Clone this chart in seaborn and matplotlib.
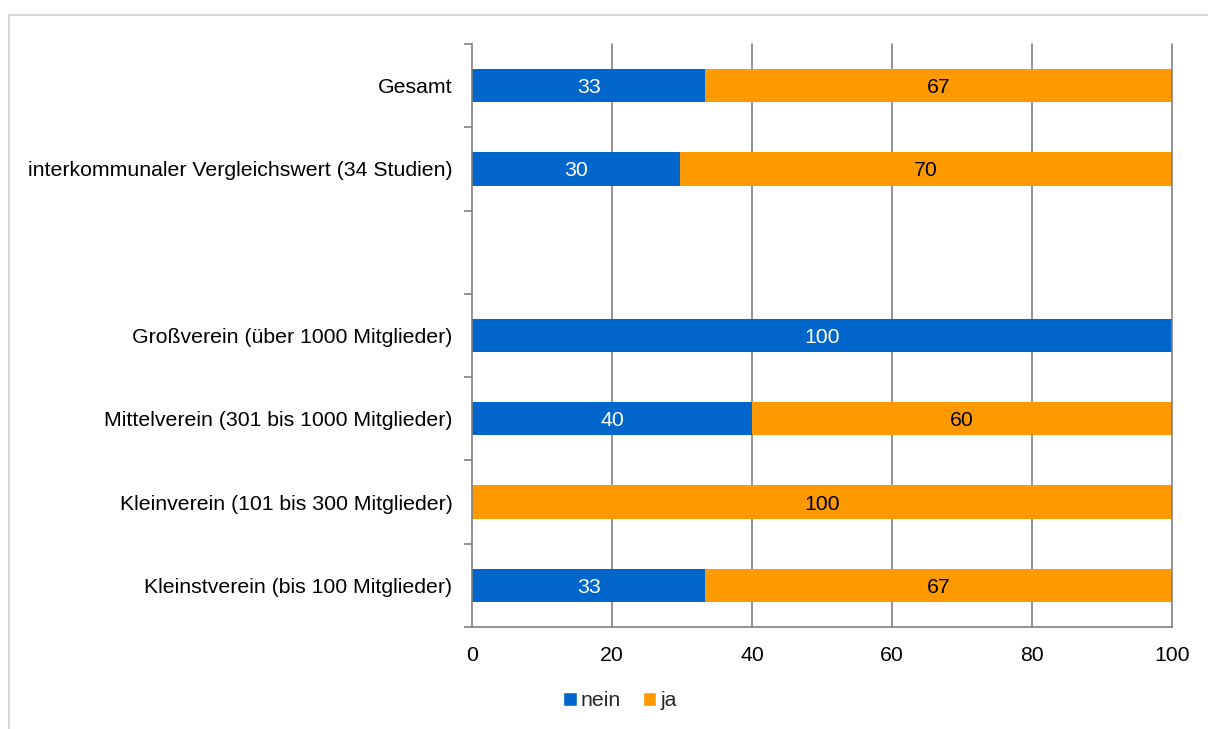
import matplotlib
matplotlib.use("Agg")
import matplotlib.pyplot as plt
import seaborn as sns
import pandas as pd
import numpy as np
from matplotlib.patches import Rectangle, Patch

categories = [
    "Gesamt",
    "interkommunaler Vergleichswert (34 Studien)",
    " ",
    "Großverein (über 1000 Mitglieder)",
    "Mittelverein (301 bis 1000 Mitglieder)",
    "Kleinverein (101 bis 300 Mitglieder)",
    "Kleinstverein (bis 100 Mitglieder)",
]
nein = [33.3, 29.7, np.nan, 100, 40, 0, 33.3]
ja = [66.7, 70.3, np.nan, 0, 60, 100, 66.7]
x_ticks = [0, 20, 40, 60, 80, 100]

BLUE = "#0066CC"
ORANGE = "#FF9900"
GRID = "#808080"
FS = 15.3

sns.set_theme(style="white")
plt.rcParams["font.family"] = ["Liberation Sans", "DejaVu Sans"]

df = pd.DataFrame({"cat": categories, "nein": nein, "ja": ja})
df["total"] = df["nein"] + df["ja"]

fig = plt.figure(figsize=(12.08, 7.29), dpi=100)
ax = fig.add_axes([472/1208, 1-627/729, 700/1208, (627-44)/729])

sns.barplot(data=df, y="cat", x="total", color=ORANGE, orient="h", width=0.4,
            ax=ax, saturation=1, zorder=3, order=categories, linewidth=0)
sns.barplot(data=df, y="cat", x="nein", color=BLUE, orient="h", width=0.4,
            ax=ax, saturation=1, zorder=4, order=categories, linewidth=0)

ax.set_xlim(0, 100)
ax.set_ylim(6.5, -0.5)
ax.set_xticks(x_ticks)
ax.set_xticklabels([str(t) for t in x_ticks], fontsize=FS, color="black")
ax.set_xlabel("")
ax.set_ylabel("")
ax.tick_params(axis="x", length=0, pad=14)
ax.tick_params(axis="y", which="major", left=False, length=0, pad=14, labelsize=FS, labelcolor="black")
ax.set_yticks(np.arange(-0.5, 7.0, 1.0), minor=True)
ax.tick_params(axis="y", which="minor", left=True, length=6, width=1.2, color=GRID, direction="out")

ax.grid(False)
for x in x_ticks[1:]:
    ax.axvline(x, color=GRID, lw=1.2, zorder=1 if x < 100 else 5, clip_on=False)
for s in ["top", "right"]:
    ax.spines[s].set_visible(False)
for s in ["left", "bottom"]:
    ax.spines[s].set_color(GRID)
    ax.spines[s].set_linewidth(1.2)
    ax.spines[s].set_zorder(5)

for i in range(len(categories)):
    n, j = nein[i], ja[i]
    if np.isnan(n):
        continue
    if n > 0:
        ax.text(n/2, i, f"{n:.0f}", ha="center", va="center_baseline", color="white", fontsize=FS, zorder=6)
    if j > 0:
        ax.text(n + j/2, i, f"{j:.0f}", ha="center", va="center_baseline", color="black", fontsize=FS, zorder=6)

handles = [Patch(facecolor=BLUE, label="nein"), Patch(facecolor=ORANGE, label="ja")]
fig.legend(handles=handles, loc="center", bbox_to_anchor=(620/1208, 1-701/729), ncol=2,
           frameon=False, fontsize=FS, handlelength=0.65, handleheight=0.65,
           handletextpad=0.2, columnspacing=1.0)

fig.patches.append(Rectangle((9/1208, -0.1), 1.2, 1-15/729+0.1, transform=fig.transFigure,
                             fill=False, edgecolor="#D0D0D0", lw=1.2, figure=fig))

fig.savefig("out.png", dpi=100)
